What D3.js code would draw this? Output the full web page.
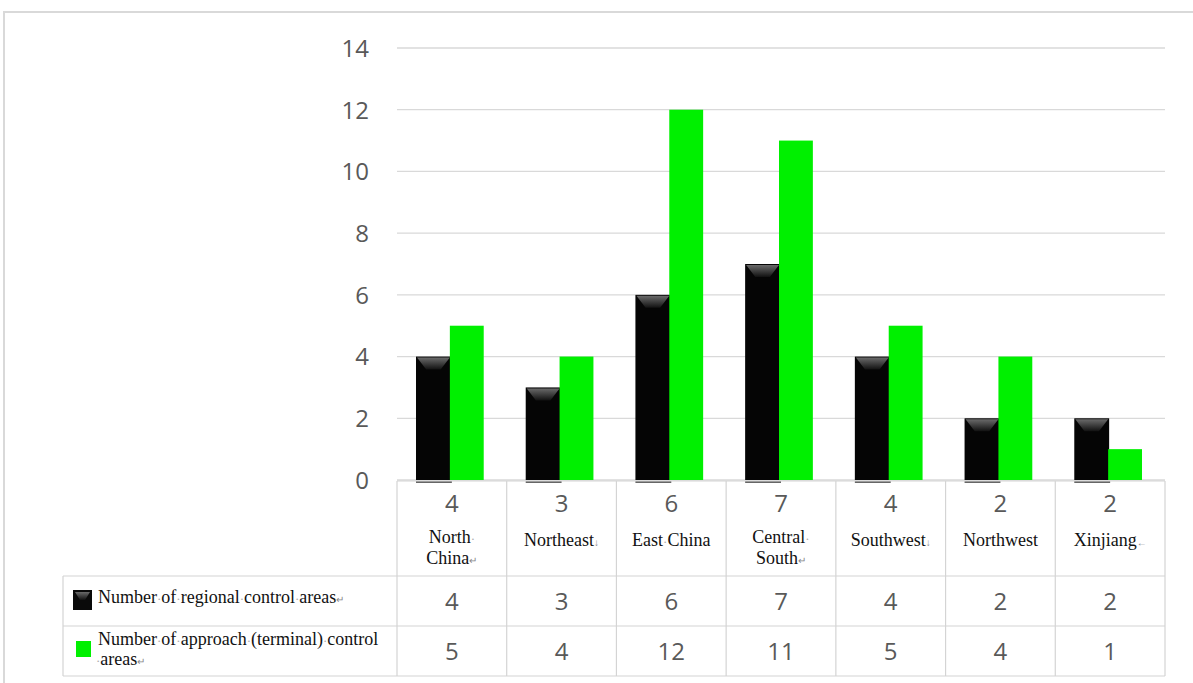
<!DOCTYPE html>
<html><head><meta charset="utf-8">
<script src="https://cdn.jsdelivr.net/npm/d3@7"></script>
<style>html,body{margin:0;padding:0;background:#fff;}svg{display:block;}</style>
</head><body>
<script>
const categories = ["North China","Northeast","East China","Central South","Southwest","Northwest","Xinjiang"];
const categoryLines = [["North\u00b7","China"],["Northeast"],["East\u00b7China"],["Central\u00b7","South"],["Southwest"],["Northwest"],["Xinjiang"]];
const categoryMarks = ["\u21b5","\u2193","","\u21b5","\u2193","","\u2190"];
const seriesNames = ["Number of regional control areas","Number of approach (terminal) control areas"];
const regional = [4,3,6,7,4,2,2];
const approach = [5,4,12,11,5,4,1];
const yTicks = [0,2,4,6,8,10,12,14];

const W = 1193, H = 683;
const svg = d3.select("body").append("svg").attr("width",W).attr("height",H);
const defs = svg.append("defs");
const g1 = defs.append("linearGradient").attr("id","bev").attr("x1",0).attr("y1",0).attr("x2",0).attr("y2",1);
g1.append("stop").attr("offset","0%").attr("stop-color","#6a6a6a");
g1.append("stop").attr("offset","100%").attr("stop-color","#111");

// outer frame
svg.append("line").attr("x1",3).attr("x2",W).attr("y1",12).attr("y2",12).attr("stroke","#d9d9d9").attr("stroke-width",2);
svg.append("line").attr("x1",4).attr("x2",4).attr("y1",12).attr("y2",H).attr("stroke","#d9d9d9").attr("stroke-width",2);

const x = d3.scaleBand().domain(categories).range([397,1165]).padding(0);
const xs = d3.scaleBand().domain(["r","a"]).range([0,x.bandwidth()]).paddingInner(0).paddingOuter(0.62);
const y = d3.scaleLinear().domain([0,14]).range([480,48]);

// gridlines
svg.append("g").selectAll("line").data(yTicks).join("line")
  .attr("x1",397).attr("x2",1165).attr("y1",d=>y(d)).attr("y2",d=>y(d))
  .attr("stroke","#d9d9d9").attr("stroke-width",1.3);

// y axis labels
const yAxis = d3.axisLeft(y).tickValues(yTicks).tickSize(0).tickPadding(0);
const ya = svg.append("g").attr("transform","translate(369,0)").call(yAxis);
ya.select(".domain").remove();
ya.selectAll("text").attr("font-family","'Open Sans', sans-serif").attr("font-size",24).attr("fill","#595959").attr("dy","0.35em");

// bars
const grp = svg.append("g").selectAll("g").data(categories).join("g")
  .attr("transform",d=>`translate(${x(d)-2},0)`);
grp.append("rect").attr("x",xs("r")).attr("width",xs.bandwidth()+1)
  .attr("y",(d,i)=>y(regional[i])).attr("height",(d,i)=>y(0)-y(regional[i])).attr("fill","#050505");
grp.append("path").attr("d",(d,i)=>{
  const x0 = xs("r")+1, w = xs.bandwidth()-1, t = y(regional[i])+1;
  return `M${x0},${t}L${x0+w},${t}L${x0+w*0.72},${t+12}L${x0+w*0.28},${t+12}Z`;
}).attr("fill","url(#bev)");
grp.append("line").attr("x1",xs("r")).attr("x2",xs("r")+xs.bandwidth()+2)
  .attr("y1",y(0)+2).attr("y2",y(0)+2).attr("stroke","#666").attr("stroke-width",2);
grp.append("rect").attr("x",xs("a")).attr("width",xs.bandwidth())
  .attr("y",(d,i)=>y(approach[i])).attr("height",(d,i)=>y(0)-y(approach[i])).attr("fill","#00f000");

// data table
const tg = svg.append("g");
const lc = "#d4d4d4";
const hl = (x1,x2,yy)=>tg.append("line").attr("x1",x1).attr("x2",x2).attr("y1",yy).attr("y2",yy).attr("stroke",lc).attr("stroke-width",1.2);
const vl = (xx,y1,y2)=>tg.append("line").attr("x1",xx).attr("x2",xx).attr("y1",y1).attr("y2",y2).attr("stroke",lc).attr("stroke-width",1.2);
hl(397,1165,481);
hl(63,1165,576); hl(63,1165,626); hl(63,1165,676);
vl(63,576,676);
x.domain().forEach(c=>vl(x(c),481,676));
vl(1165,481,676);

const numFont = "'Open Sans', sans-serif", serif = "'Liberation Serif','Times New Roman',serif";
// write text where "·" marks are drawn faint
function richText(t, str, mark){
  str.split("\u00b7").forEach((part,k,arr)=>{
    if(part) t.append("tspan").text(part);
    if(k<arr.length-1) t.append("tspan").attr("fill","#aaa").attr("font-size",13).text("\u00b7");
  });
  if(mark) t.append("tspan").attr("font-size",10).attr("fill","#888").text(mark);
}
categories.forEach((c,i)=>{
  const cx = x(c)+x.bandwidth()/2;
  tg.append("text").attr("x",cx).attr("y",512).attr("text-anchor","middle")
    .attr("font-family",numFont).attr("font-size",24).attr("fill","#595959").text(regional[i]);
  const lines = categoryLines[i];
  const base = lines.length>1 ? 543 : 546;
  lines.forEach((ln,j)=>{
    const t = tg.append("text").attr("x",cx).attr("y",base+j*21).attr("text-anchor","middle")
      .attr("font-family",serif).attr("font-size",18).attr("fill","#111");
    richText(t, ln, j===lines.length-1 ? categoryMarks[i] : "");
  });
  tg.append("text").attr("x",cx).attr("y",610).attr("text-anchor","middle")
    .attr("font-family",numFont).attr("font-size",24).attr("fill","#595959").text(regional[i]);
  tg.append("text").attr("x",cx).attr("y",660).attr("text-anchor","middle")
    .attr("font-family",numFont).attr("font-size",24).attr("fill","#595959").text(approach[i]);
});

// legend keys
tg.append("rect").attr("x",73).attr("y",590).attr("width",19).attr("height",20).attr("fill","#0a0a0a");
tg.append("path").attr("d","M75,592L90,592L85,600L80,600Z").attr("fill","url(#bev)");
tg.append("rect").attr("x",76).attr("y",641).attr("width",15).attr("height",16).attr("fill","#00f000");
const l1 = tg.append("text").attr("x",98).attr("y",603).attr("font-family",serif).attr("font-size",18).attr("fill","#111");
richText(l1, "Number\u00b7of\u00b7regional\u00b7control\u00b7areas", "\u21b5");
const l2 = tg.append("text").attr("x",98).attr("y",645).attr("font-family",serif).attr("font-size",18).attr("fill","#111");
richText(l2, "Number\u00b7of\u00b7approach\u00b7(terminal)\u00b7control", "");
const l3 = tg.append("text").attr("x",96).attr("y",665).attr("font-family",serif).attr("font-size",18).attr("fill","#111");
richText(l3, "\u00b7areas", "\u21b5");
</script>
</body></html>
